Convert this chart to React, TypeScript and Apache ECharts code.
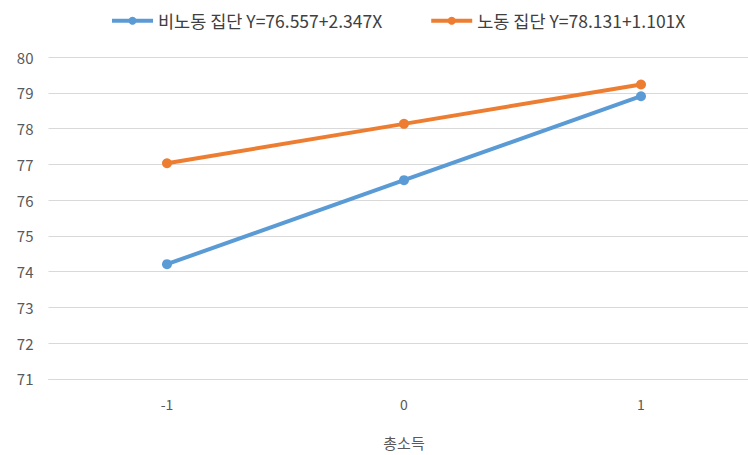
import React, { useEffect, useRef } from "react";
import * as echarts from "echarts";

const categories = ["-1", "0", "1"];
const nonLaborName = "비노동 집단 Y=76.557+2.347X";
const laborName = "노동 집단 Y=78.131+1.101X";
const nonLaborValues = [74.21, 76.557, 78.904];
const laborValues = [77.03, 78.131, 79.232];
const yTicks = { min: 71, max: 80, interval: 1 };
const xAxisName = "총소득";

export default function App() {
  const ref = useRef<HTMLDivElement>(null);
  useEffect(() => {
    if (!ref.current) return;
    const chart = echarts.init(ref.current, undefined, { renderer: "svg" });
    const font = "'Noto Sans CJK KR', 'Noto Sans', sans-serif";
    chart.setOption({
      animation: false,
      backgroundColor: "#ffffff",
      textStyle: { fontFamily: font },
      legend: {
        top: 7,
        left: 105,
        itemWidth: 41,
        itemHeight: 10,
        itemGap: 47,
        lineStyle: { width: 4 },
        textStyle: { fontSize: 17.5, color: "#404040", fontFamily: font },
        data: [nonLaborName, laborName],
      },
      grid: { left: 48.5, top: 57, width: 711, height: 323, containLabel: false },
      xAxis: {
        type: "category",
        data: categories,
        boundaryGap: true,
        axisLine: { lineStyle: { color: "#D9D9D9", width: 1 } },
        axisTick: { show: false },
        axisLabel: { color: "#595959", fontSize: 14, margin: 18, fontFamily: font },
        name: xAxisName,
        nameLocation: "middle",
        nameGap: 56,
        nameTextStyle: { color: "#595959", fontSize: 15, fontFamily: font },
      },
      yAxis: {
        type: "value",
        min: yTicks.min,
        max: yTicks.max,
        interval: yTicks.interval,
        axisLine: { show: false },
        axisTick: { show: false },
        axisLabel: { color: "#595959", fontSize: 15, margin: 15, fontFamily: font },
        splitLine: { lineStyle: { color: "#D9D9D9", width: 1 } },
      },
      series: [
        {
          name: nonLaborName,
          type: "line",
          data: nonLaborValues,
          symbol: "circle",
          symbolSize: 10,
          lineStyle: { color: "#5B9BD5", width: 4 },
          itemStyle: { color: "#5B9BD5" },
        },
        {
          name: laborName,
          type: "line",
          data: laborValues,
          symbol: "circle",
          symbolSize: 10,
          lineStyle: { color: "#ED7D31", width: 4 },
          itemStyle: { color: "#ED7D31" },
        },
      ],
    });
    return () => chart.dispose();
  }, []);
  return (
    <div style={{ position: "absolute", left: 0, top: 0, width: 748, height: 455, overflow: "hidden" }}>
      <div ref={ref} style={{ width: 760, height: 455 }} />
    </div>
  );
}
